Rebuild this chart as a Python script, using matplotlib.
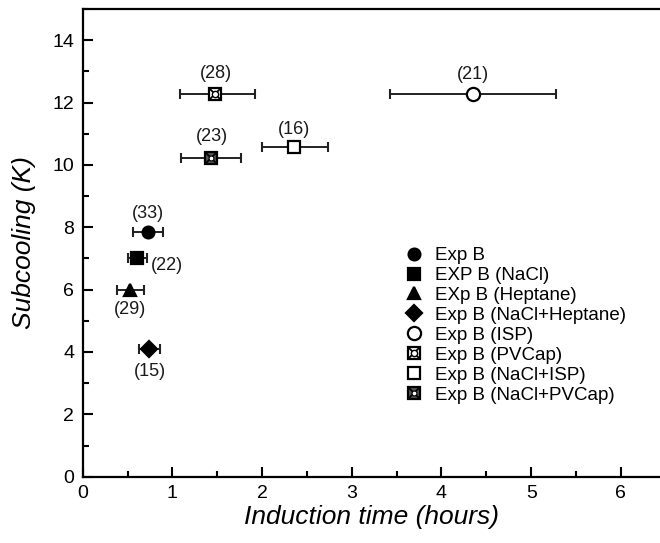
import matplotlib
matplotlib.use("Agg")
import matplotlib.pyplot as plt
from matplotlib.ticker import MultipleLocator

plt.rcParams['font.family'] = ['Liberation Sans', 'DejaVu Sans']

# --- data: mean induction time, spread and subcooling per experiment ---
labels = ["Exp B", "EXP B (NaCl)", "EXp B (Heptane)", "Exp B (NaCl+Heptane)",
          "Exp B (ISP)", "Exp B (PVCap)", "Exp B (NaCl+ISP)", "Exp B (NaCl+PVCap)"]
t_mean = [0.73, 0.61, 0.53, 0.74, 4.35, 1.48, 2.36, 1.43]
t_low  = [0.56, 0.50, 0.38, 0.63, 3.43, 1.09, 2.00, 1.10]
t_high = [0.90, 0.72, 0.68, 0.86, 5.28, 1.92, 2.73, 1.76]
subcool = [7.85, 7.02, 5.99, 4.10, 12.27, 12.28, 10.57, 10.23]
n_runs = [33, 22, 29, 15, 21, 28, 16, 23]

# where the run counts sit
count_x = [0.73, 0.94, 0.53, 0.755, 4.35, 1.48, 2.36, 1.44]
count_y = [8.45, 6.76, 5.37, 3.37, 12.89, 12.94, 11.12, 10.91]

fig = plt.figure(figsize=(6.6, 5.43), dpi=100)
ax = fig.add_axes([0.1253, 0.1221, 0.8747, 0.8613])

black = 'k'
styles = [
    [dict(marker='o', ms=8.5, mfc=black)],
    [dict(marker='s', ms=8, mfc=black)],
    [dict(marker='^', ms=9, mfc=black)],
    [dict(marker='D', ms=8, mfc=black)],
    [dict(marker='o', ms=9.5, mfc='white')],
    [dict(marker='s', ms=9, mfc='white'), dict(marker='x', ms=7, mfc='none', mew=1.3),
     dict(marker='o', ms=4.5, mfc='white', mew=1.0)],
    [dict(marker='s', ms=9, mfc='white')],
    [dict(marker='s', ms=8.5, mfc='#555555'), dict(marker='x', ms=6.5, mfc='none', mew=1.3),
     dict(marker='o', ms=3.5, mfc='white', mew=0.8)],
]

handles = []
for i in range(len(labels)):
    xerr = [[t_mean[i] - t_low[i]], [t_high[i] - t_mean[i]]]
    ax.errorbar(t_mean[i], subcool[i], xerr=xerr, fmt='none', ecolor='#222222',
                elinewidth=1.4, capsize=3.8, capthick=1.5, zorder=2)
    parts = []
    for st in styles[i]:
        ln, = ax.plot(t_mean[i], subcool[i], linestyle='none', mec=black,
                      mew=st.pop('mew', 1.6), zorder=3, **st)
        parts.append(ln)
    handles.append(tuple(parts))
    ax.text(count_x[i], count_y[i], f"({n_runs[i]})", ha='center', va='center',
            fontsize=13, color='#1a1a1a')

ax.legend(handles, labels, loc='lower left', bbox_to_anchor=(0.545, 0.14),
          frameon=False, fontsize=13.5, handlelength=1.0, handletextpad=0.6,
          labelspacing=0.15, borderaxespad=0)

ax.set_xlim(0, 6.436)
ax.set_ylim(0, 15)
ax.xaxis.set_major_locator(MultipleLocator(1))
ax.xaxis.set_minor_locator(MultipleLocator(0.5))
ax.yaxis.set_major_locator(MultipleLocator(2))
ax.yaxis.set_minor_locator(MultipleLocator(1))
ax.tick_params(which='major', direction='in', length=7, width=1.5, labelsize=14, pad=6)
ax.tick_params(which='minor', direction='in', length=4, width=1.5)
ax.spines['right'].set_visible(False)
for s in ['left', 'bottom', 'top']:
    ax.spines[s].set_linewidth(1.6)

ax.set_xlabel('Induction time (hours)', fontsize=19, style='italic', labelpad=2)
ax.set_ylabel('Subcooling (K)', fontsize=19, style='italic', labelpad=12)

fig.savefig('out.png', dpi=100)
